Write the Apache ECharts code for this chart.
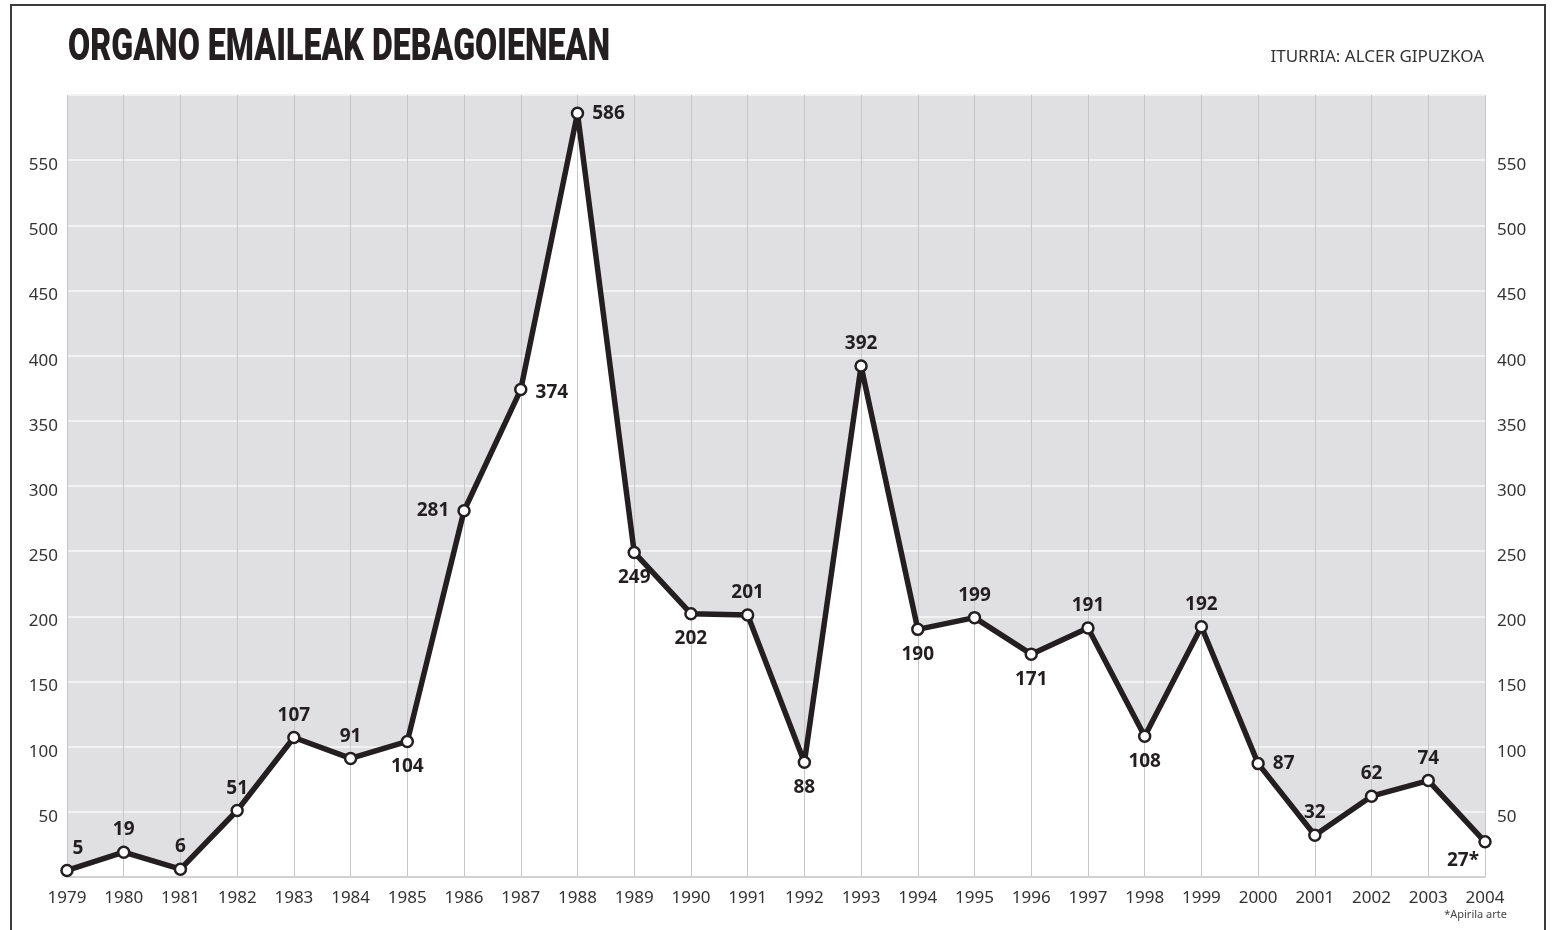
<!DOCTYPE html>
<html lang="eu">
<head>
<meta charset="UTF-8">
<title>Organo emaileak Debagoienean</title>
<script src="https://cdn.jsdelivr.net/npm/echarts@6/dist/echarts.min.js"></script>
<style>
  html, body { margin: 0; padding: 0; background: #fff; }
  #main { width: 1554px; height: 930px; }
</style>
</head>
<body>
<div id="main"></div>
<script>
// urteak eta emaileak
var years = ['1979', '1980', '1981', '1982', '1983', '1984', '1985', '1986', '1987',
  '1988', '1989', '1990', '1991', '1992', '1993', '1994', '1995', '1996', '1997',
  '1998', '1999', '2000', '2001', '2002', '2003', '2004'];
var donors = [5, 19, 6, 51, 107, 91, 104, 281, 374, 586, 249, 202, 201, 88, 392,
  190, 199, 171, 191, 108, 192, 87, 32, 62, 74, 27];
var footnoted = ['2004'];
var yTicks = [50, 100, 150, 200, 250, 300, 350, 400, 450, 500, 550];

// where each value label goes
var labelSide = {
  '1985': 'bottom', '1986': 'left', '1987': 'right', '1988': 'right', '1989': 'bottom',
  '1990': 'bottom', '1992': 'bottom', '1994': 'bottom', '1996': 'bottom',
  '1998': 'bottom', '2000': 'right', '2004': 'bottom'
};
var labelShift = { '1979': [11, 0], '1987': [0, 3], '2004': [-22, 0] };

var ink = '#231f20';
var myChart = echarts.init(document.getElementById('main'));

var pointData = donors.map(function (v, i) {
  var y = years[i];
  var side = labelSide[y] || 'top';
  var dist = side === 'bottom' ? 9 : (side === 'top' ? 6 : 8);
  if (y === '2004') dist = 3;
  return {
    value: v,
    label: { position: side, distance: dist, offset: labelShift[y] || [0, 0] }
  };
});

function yLabel(v) {
  return yTicks.indexOf(v) >= 0 ? String(v) : '';
}

var option = {
  animation: false,
  backgroundColor: '#fff',
  grid: {
    left: 67, right: 69, top: 95, bottom: 53,
    show: true, backgroundColor: '#e0e0e2', borderWidth: 0, z: 0
  },
  xAxis: {
    type: 'category',
    data: years,
    boundaryGap: false,
    z: 2,
    axisLine: { show: true, lineStyle: { color: '#d2d2d2', width: 2 } },
    axisTick: { show: false },
    axisLabel: {
      interval: 0, margin: 13, color: '#333',
      fontFamily: 'Noto Sans', fontSize: 17
    },
    splitLine: { show: true, interval: 0, lineStyle: { color: '#c6c6c6', width: 1 } }
  },
  yAxis: [{
    type: 'value', min: 0, max: 600, interval: 50, position: 'left', z: 0,
    axisLine: { show: false }, axisTick: { show: false },
    axisLabel: {
      formatter: yLabel, margin: 9, color: '#333', fontFamily: 'Noto Sans',
      fontSize: 17, verticalAlign: 'top', lineHeight: 10
    },
    splitLine: { show: true, lineStyle: { color: '#f2f2f3', width: 2 } }
  }, {
    type: 'value', min: 0, max: 600, interval: 50, position: 'right', z: 0,
    axisLine: { show: false }, axisTick: { show: false },
    axisLabel: {
      formatter: yLabel, margin: 12, color: '#333', fontFamily: 'Noto Sans',
      fontSize: 17, verticalAlign: 'top', lineHeight: 10
    },
    splitLine: { show: false }
  }],
  series: [{
    // white area below the line
    type: 'line', data: donors, z: 1, silent: true,
    showSymbol: false, lineStyle: { width: 0 },
    areaStyle: { color: '#ffffff', opacity: 1 }
  }, {
    type: 'line', data: pointData, z: 3,
    symbol: 'circle', symbolSize: 11,
    itemStyle: { color: '#ffffff', borderColor: ink, borderWidth: 2.5 },
    lineStyle: { color: ink, width: 5.5 },
    label: {
      show: true, color: ink, fontFamily: 'Noto Sans', fontWeight: 'bold', fontSize: 19,
      formatter: function (p) {
        return p.value + (footnoted.indexOf(p.name) >= 0 ? '*' : '');
      }
    }
  }],
  graphic: [{
    type: 'rect', silent: true,
    shape: { x: 11, y: 5, width: 1534, height: 940 },
    style: { fill: 'none', stroke: '#3a3a3a', lineWidth: 2 }
  }, {
    type: 'text', x: 68, y: 49, scaleX: 0.715,
    style: {
      text: 'ORGANO EMAILEAK DEBAGOIENEAN', fill: ink,
      fontFamily: 'Roboto', fontWeight: 900, fontSize: 45,
      textAlign: 'left', textVerticalAlign: 'middle'
    }
  }, {
    type: 'text', x: 1484, y: 57,
    style: {
      text: 'ITURRIA: ALCER GIPUZKOA', fill: '#333',
      fontFamily: 'Noto Sans', fontSize: 17,
      textAlign: 'right', textVerticalAlign: 'middle'
    }
  }, {
    type: 'text', x: 1507, y: 915,
    style: {
      text: '*Apirila arte', fill: '#444',
      fontFamily: 'Noto Sans', fontSize: 11,
      textAlign: 'right', textVerticalAlign: 'middle'
    }
  }]
};

myChart.setOption(option);
</script>
</body>
</html>
